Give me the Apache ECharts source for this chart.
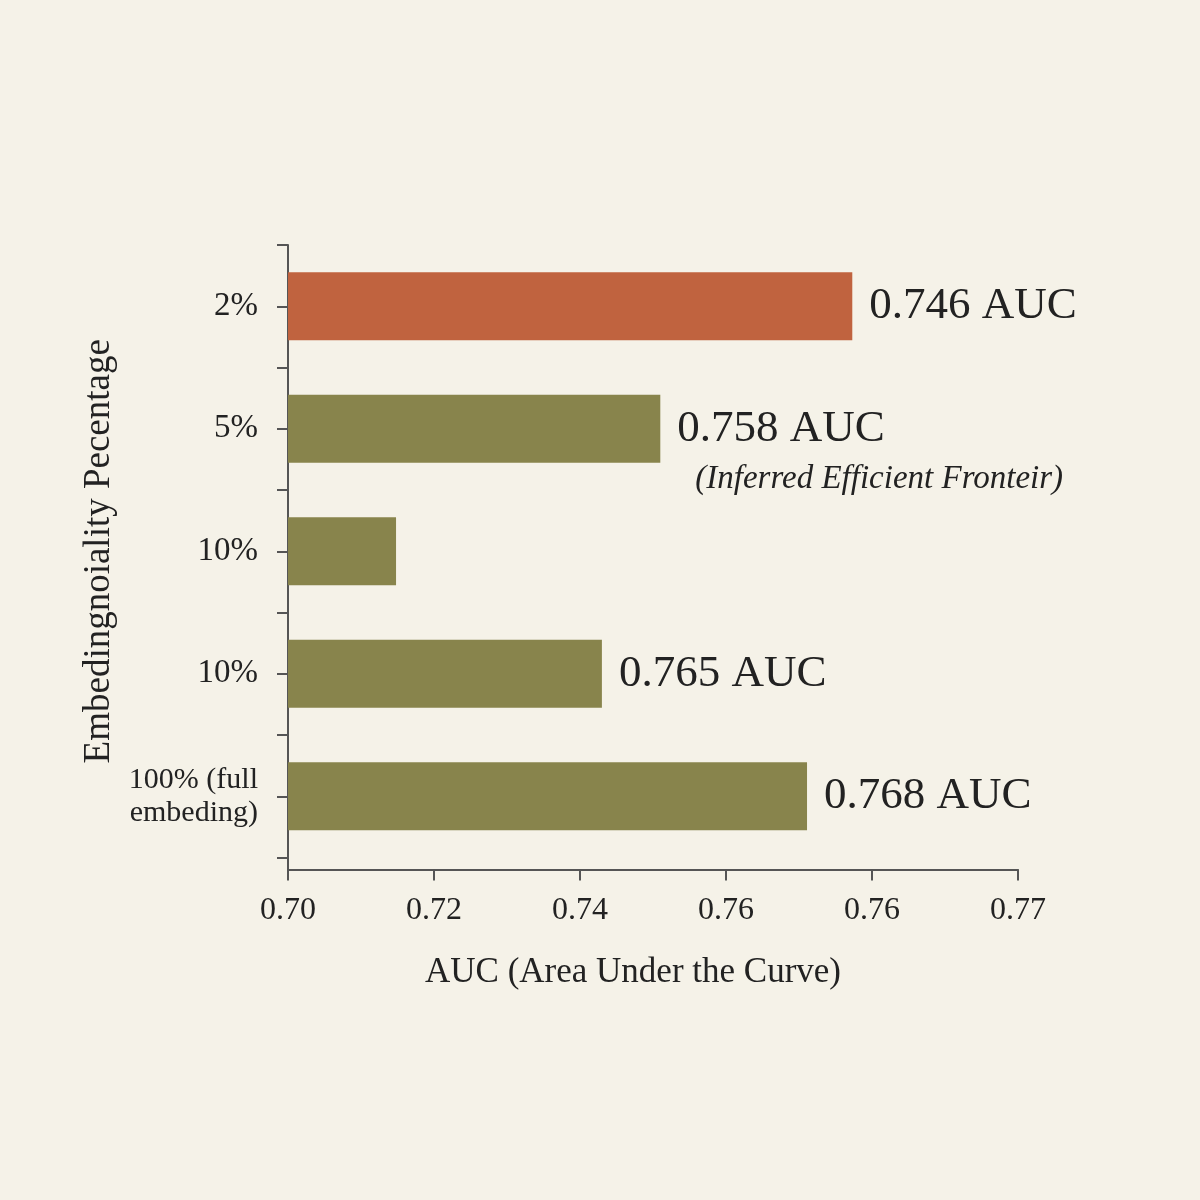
<!DOCTYPE html>
<html>
<head>
<meta charset="utf-8">
<script src="https://cdn.jsdelivr.net/npm/echarts@6/dist/echarts.min.js"></script>
<style>
  html, body { margin: 0; padding: 0; background: #F5F2E8; }
  #chart { width: 1200px; height: 1200px; }
</style>
</head>
<body>
<div id="chart"></div>
<script>
// ---- data ----
const categories = ["2%", "5%", "10%", "10%", "100% (full\nembeding)"];
const barValues = [0.7773, 0.7510, 0.7148, 0.7430, 0.7711];
const valueLabels = ["0.746 AUC", "0.758 AUC", "", "0.765 AUC", "0.768 AUC"];
const noteLabels = ["", "(Inferred Efficient Fronteir)", "", "", ""];
const xTickLabels = ["0.70", "0.72", "0.74", "0.76", "0.76", "0.77"];
const xAxisTitle = "AUC (Area Under the Curve)";
const yAxisTitle = "Embedingnoiality Pecentage";

// ---- style ----
const FONT = "'Liberation Serif', 'Times New Roman', serif";
const TEXT = "#222222";
const AXIS = "#555555";
const RED = "#C0633F";
const OLIVE = "#88844C";
const highlightIndex = 0;
const GRID = { left: 288, right: 182, top: 245, bottom: 342.5 };

const chart = echarts.init(document.getElementById('chart'));

const option = {
  backgroundColor: '#F5F2E8',
  animation: false,
  grid: { left: GRID.left, right: GRID.right, top: GRID.top, bottom: GRID.bottom, containLabel: false },
  xAxis: {
    type: 'value',
    min: 0.70, max: 0.80, interval: 0.02,
    offset: 12,
    name: xAxisTitle,
    nameLocation: 'middle',
    nameGap: 86,
    nameTextStyle: { fontFamily: FONT, fontSize: 35, color: TEXT, padding: [0, 40, 0, 0] },
    axisLine: { show: true, lineStyle: { color: AXIS, width: 2 } },
    axisTick: { show: true, length: 11, lineStyle: { color: AXIS, width: 2 } },
    splitLine: { show: false },
    axisLabel: {
      margin: 25,
      fontFamily: FONT, fontSize: 32, color: TEXT,
      formatter: function (v, i) { return xTickLabels[i] !== undefined ? xTickLabels[i] : ''; }
    }
  },
  yAxis: [
    {
      type: 'category',
      inverse: true,
      data: categories,
      position: 'left',
      name: yAxisTitle,
      nameLocation: 'middle',
      nameGap: 167,
      nameRotate: 90,
      nameTextStyle: { fontFamily: FONT, fontSize: 37, color: TEXT },
      axisLine: { show: true, lineStyle: { color: AXIS, width: 2 } },
      axisTick: { show: true, length: 11, alignWithLabel: false, lineStyle: { color: AXIS, width: 2 } },
      axisLabel: {
        margin: 30,
        fontFamily: FONT, color: TEXT,
        fontSize: 33,
        align: 'right',
        formatter: function (v) {
          return v.indexOf('\n') >= 0 ? '{m|' + v.split('\n').join('}\n{m|') + '}' : v;
        },
        rich: { m: { fontFamily: FONT, fontSize: 30, lineHeight: 33, color: TEXT, align: 'right' } }
      }
    },
    {
      type: 'category',
      inverse: true,
      data: categories,
      position: 'left',
      axisLine: { show: false },
      axisTick: { show: true, length: 11, alignWithLabel: true, lineStyle: { color: AXIS, width: 2 } },
      axisLabel: { show: false }
    }
  ],
  graphic: [
    {
      type: 'line',
      shape: { x1: GRID.left, y1: 1200 - GRID.bottom, x2: GRID.left, y2: 1200 - GRID.bottom + 21 },
      style: { stroke: AXIS, lineWidth: 2 }
    }
  ],
  series: [
    {
      type: 'bar',
      yAxisIndex: 0,
      data: barValues,
      barWidth: '55.5%',
      itemStyle: {
        color: function (p) { return p.dataIndex === highlightIndex ? RED : OLIVE; }
      },
      label: {
        show: true,
        position: 'right',
        distance: 17,
        fontFamily: FONT,
        color: TEXT,
        formatter: function (p) {
          const v = valueLabels[p.dataIndex];
          const n = noteLabels[p.dataIndex];
          if (!v) return '';
          if (n) return '{v|' + v + '}\n{n|' + n + '}';
          return '{v|' + v + '}';
        },
        rich: {
          v: { fontFamily: FONT, fontSize: 45, lineHeight: 50, color: TEXT },
          n: { fontFamily: FONT, fontSize: 33, fontStyle: 'italic', lineHeight: 52, color: TEXT, padding: [0, 0, 0, 18] }
        }
      }
    }
  ]
};

// shift the two-line label so its first line stays centred on the bar
option.series[0].data = barValues.map(function (v, i) {
  return noteLabels[i] ? { value: v, label: { offset: [0, 26] } } : v;
});

chart.setOption(option);
</script>
</body>
</html>
